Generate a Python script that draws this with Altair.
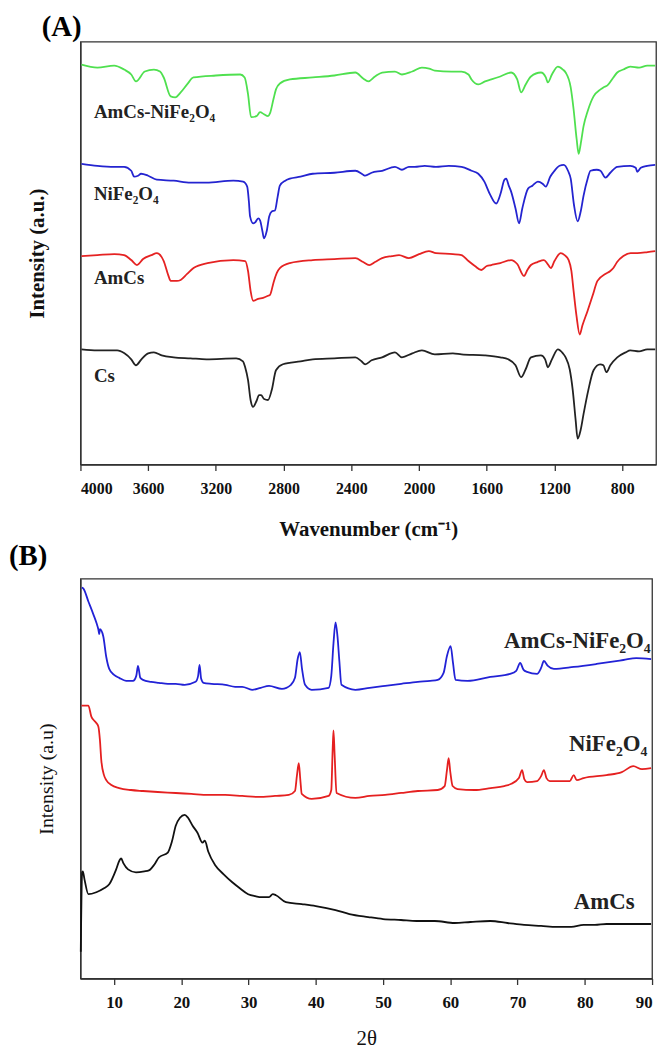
import altair as alt
import pandas as pd

FONT = "Liberation Serif"

# ---------------- Panel A : FTIR ----------------
FTIR_SERIES = ["AmCs-NiFe₂O₄", "NiFe₂O₄", "AmCs", "Cs"]
FTIR_COLORS = ["#4fe04f", "#2424d0", "#e52222", "#222222"]

AMCS_NIFE_WN = [3994, 3900, 3801, 3742, 3700, 3672, 3620, 3566, 3530, 3508, 3467, 3440, 3408, 3370, 3332,
                3200, 3056, 3030, 3010, 2992, 2960, 2939, 2916, 2892, 2880, 2860, 2845, 2822, 2763, 2628,
                2500, 2376, 2330, 2300, 2260, 2218, 2142, 2101, 2040, 1983, 1940, 1907, 1808, 1749, 1708,
                1690, 1649, 1610, 1573, 1520, 1456, 1420, 1397, 1370, 1339, 1280, 1251, 1239, 1215, 1180,
                1150, 1134, 1104, 1087, 1069, 1057, 1045, 1028, 1004, 969, 928, 911, 887, 852, 829, 793,
                752, 700, 652, 605]
AMCS_NIFE_IR = [403, 400, 402, 398, 393, 386, 396, 398, 396, 390, 371, 370, 375, 383, 390,
                392, 393, 390, 373, 350, 351, 355, 353, 351, 354, 368, 378, 384, 388, 390,
                392, 395, 389, 386, 391, 395, 396, 393, 396, 400, 399, 397, 396, 396, 393,
                388, 383, 386, 388, 391, 395, 388, 375, 383, 391, 395, 390, 385, 393, 401,
                398, 395, 380, 358, 328, 313, 323, 341, 356, 371, 378, 380, 382, 390, 395, 398,
                401, 400, 402, 402]

NIFE_WN = [3994, 3900, 3800, 3742, 3700, 3683, 3660, 3642, 3600, 3549, 3449, 3350, 3256, 3097, 3039,
           3015, 3005, 2998, 2980, 2968, 2950, 2939, 2925, 2916, 2900, 2885, 2870, 2851, 2835, 2822,
           2790, 2763, 2700, 2628, 2500, 2376, 2330, 2318, 2280, 2218, 2142, 2101, 2060, 2025, 1966,
           1900, 1825, 1749, 1690, 1650, 1614, 1580, 1544, 1520, 1495, 1485, 1470, 1456, 1430, 1409,
           1390, 1356, 1330, 1298, 1270, 1251, 1225, 1204, 1170, 1145, 1120, 1104, 1085, 1063, 1045,
           1028, 1004, 987, 950, 928, 899, 870, 829, 752, 720, 711, 690, 652, 605]
NIFE_IR = [303, 301, 300, 300, 296, 290, 291, 293, 291, 287, 286, 284, 284, 286, 285,
           280, 265, 250, 243, 244, 248, 246, 235, 228, 235, 250, 255, 256, 270, 281,
           286, 288, 290, 293, 294, 296, 292, 291, 294, 296, 300, 297, 300, 300, 301,
           300, 301, 300, 296, 293, 285, 272, 263, 272, 287, 288, 281, 275, 258, 243,
           258, 278, 281, 285, 283, 280, 290, 295, 301, 302, 296, 288, 262, 245, 255,
           271, 288, 296, 297, 296, 289, 294, 300, 301, 299, 295, 299, 301, 302]

AMCS_WN = [3994, 3900, 3800, 3742, 3700, 3666, 3630, 3580, 3549, 3520, 3508, 3480, 3467, 3430, 3408,
           3370, 3332, 3250, 3097, 3027, 3010, 2995, 2980, 2950, 2921, 2892, 2880, 2860, 2840, 2822,
           2763, 2628, 2500, 2376, 2330, 2294, 2260, 2218, 2160, 2118, 2060, 2000, 1942, 1900, 1800,
           1749, 1708, 1670, 1632, 1600, 1573, 1520, 1456, 1420, 1380, 1360, 1339, 1300, 1262, 1240,
           1221, 1200, 1163, 1140, 1116, 1100, 1087, 1070, 1051, 1035, 1004, 975, 946, 900, 870,
           852, 830, 793, 750, 711, 650, 605]
AMCS_IR = [210, 211, 212, 211, 206, 201, 207, 211, 213, 209, 205, 190, 185, 185, 186,
           192, 198, 203, 206, 205, 195, 175, 165, 167, 168, 170, 171, 183, 193, 198,
           203, 206, 207, 208, 204, 201, 204, 208, 210, 211, 208, 212, 215, 213, 212,
           211, 205, 200, 196, 200, 201, 203, 206, 202, 190, 196, 201, 204, 206, 202,
           198, 205, 213, 211, 206, 195, 175, 150, 131, 140, 155, 170, 185, 192, 195,
           198, 204, 210, 213, 213, 214, 215]

CS_WN = [3994, 3900, 3783, 3740, 3700, 3672, 3640, 3600, 3566, 3520, 3449, 3350, 3256, 3080, 3040,
         3027, 3010, 2995, 2980, 2960, 2945, 2933, 2915, 2892, 2870, 2845, 2804, 2700, 2628, 2500,
         2376, 2340, 2318, 2280, 2218, 2142, 2101, 2040, 1983, 1907, 1800, 1749, 1614, 1520, 1473,
         1430, 1397, 1370, 1339, 1280, 1255, 1239, 1215, 1180, 1150, 1134, 1110, 1092, 1075, 1063,
         1045, 1028, 1000, 969, 930, 911, 893, 870, 829, 780, 752, 700, 652, 605]
CS_IR = [116, 115, 115, 112, 106, 100, 106, 112, 113, 110, 108, 107, 106, 107, 104,
         98, 85, 65, 58, 64, 70, 70, 66, 65, 75, 95, 101, 104, 106, 107,
         108, 104, 101, 105, 108, 113, 108, 112, 115, 111, 112, 111, 110, 108, 106,
         100, 88, 96, 108, 110, 106, 98, 106, 116, 112, 108, 96, 75, 45, 26,
         35, 51, 75, 95, 101, 100, 93, 100, 108, 113, 115, 114, 116, 116]

FTIR_LABEL_X = [3920, 3920, 3920, 3920]
FTIR_LABEL_Y = [355, 273, 188, 89]
FTIR_TICKS = list(range(800, 4001, 200))

# ---------------- Panel B : XRD ----------------
XRD_SERIES = ["AmCs-NiFe₂O₄ ", "NiFe₂O₄ ", "AmCs "]
XRD_NAMES = ["AmCs-NiFe₂O₄", "NiFe₂O₄", "AmCs"]
XRD_COLORS = ["#2222d6", "#e52020", "#111111"]

XRD_AMCS_NIFE_T = [5.2, 5.44, 6.18, 6.92, 7.4, 7.66, 7.8, 7.9, 8.39, 8.84, 9.28, 10.0, 10.76, 11.79, 12.82,
                   13.3, 13.56, 13.9, 14.3, 15.5, 16.66, 18.0, 19.17, 20.5, 22.12, 22.5, 22.71, 22.95, 23.3,
                   24.5, 26.55, 28.0, 29.06, 30.53, 31.8, 33.04, 34.96, 36.3, 36.9, 37.3, 37.62, 37.95, 38.4,
                   39.39, 41.9, 42.3, 42.63, 42.93, 43.22, 43.5, 43.81, 45.88, 48.0, 50.31, 52.7, 55.18,
                   57.0, 58.13, 59.0, 59.5, 60.05, 60.4, 60.78, 62.56, 65.95, 68.9, 69.8, 70.38, 70.9,
                   71.41, 72.89, 73.5, 73.92, 74.5, 75.4, 78.35, 81.74, 85.73, 87.65, 89.86]
XRD_AMCS_NIFE_I = [394, 393, 380, 367, 358, 352, 347, 352, 345, 324, 312, 306, 303, 300, 300,
                   305, 315, 303, 301, 299, 298, 297, 297, 296, 299, 305, 316, 302, 298,
                   297, 296, 294, 294, 291, 293, 295, 292, 296, 303, 322, 329, 312, 296,
                   291, 293, 305, 338, 359, 345, 320, 296, 291, 293, 295, 297, 299,
                   300, 301, 308, 325, 335, 318, 301, 300, 304, 307, 310, 318, 311,
                   309, 307, 313, 320, 315, 312, 314, 317, 321, 323, 322]

XRD_NIFE_T = [5.15, 6.18, 6.62, 7.3, 7.66, 7.9, 8.1, 8.5, 8.84, 9.6, 10.76, 12.5, 14.3, 16.5, 19.17,
              21.5, 24.04, 26.5, 29.06, 31.5, 33.93, 35.99, 36.9, 37.2, 37.47, 37.7, 37.91, 39.39, 41.9,
              42.3, 42.5, 42.63, 42.8, 43.08, 45.88, 48.0, 50.31, 52.7, 55.18, 58.13, 59.16, 59.5, 59.75,
              60.0, 60.34, 61.08, 63.59, 66.0, 68.02, 69.0, 70.2, 70.67, 71.0, 71.41, 72.89, 73.5, 73.92,
              74.3, 74.8, 77.76, 78.35, 78.8, 79.82, 83.22, 85.5, 87.21, 88.5, 89.86]
XRD_NIFE_I = [275, 275, 264, 258, 254, 240, 220, 205, 200, 195, 192, 190, 189, 188, 187,
              186, 185, 185, 184, 183, 184, 185, 189, 205, 217, 200, 186, 181, 184,
              190, 230, 250, 225, 187, 182, 184, 185, 187, 189, 190, 194, 210, 222,
              208, 194, 191, 190, 192, 194, 196, 202, 210, 201, 198, 199, 204, 210,
              202, 199, 199, 205, 200, 202, 205, 208, 214, 211, 212]

XRD_AMCS_T = [5.05, 5.25, 5.35, 5.6, 6.18, 7.36, 8.5, 9.28, 10.31, 10.8, 11.05, 11.4, 12.08, 13.26, 14.5,
              15.18, 16.0, 16.66, 17.99, 18.6, 19.17, 19.8, 20.5, 21.0, 21.68, 22.4, 23.15, 23.5, 24.0,
              25.07, 26.3, 27.58, 28.7, 29.94, 31.0, 32.0, 33.04, 33.6, 34.07, 35.55, 37.91, 40.0, 42.93,
              45.0, 47.8, 50.0, 52.67, 55.0, 57.69, 60.64, 63.0, 65.95, 68.5, 70.97, 73.5, 75.84, 78.0,
              79.82, 81.5, 83.22, 86.0, 89.86]
XRD_AMCS_I = [27, 107, 108, 100, 85, 87, 91, 95, 110, 119, 121, 116, 110, 107, 108,
              109, 115, 122, 127, 138, 154, 162, 165, 162, 154, 147, 137, 139, 128,
              114, 105, 97, 91, 85, 83, 82, 82, 85, 84, 77, 75, 73, 69,
              65, 62, 60, 59, 58, 58, 56, 57, 58, 56, 54, 53, 52, 52,
              54, 54, 55, 55, 55]

XRD_LABEL_X = [89.8, 89.3, 87.4]
XRD_LABEL_Y = [340, 236, 77]
XRD_TICKS = list(range(10, 91, 5))

# ---------------- build tables ----------------
ftir_rows = []
for name, wn, iv in zip(FTIR_SERIES, [AMCS_NIFE_WN, NIFE_WN, AMCS_WN, CS_WN],
                        [AMCS_NIFE_IR, NIFE_IR, AMCS_IR, CS_IR]):
    for w, v in zip(wn, iv):
        ftir_rows.append({"wn": w, "val": v, "series": name})
ftir = pd.DataFrame(ftir_rows)
ftir_labels = pd.DataFrame({"wn": FTIR_LABEL_X, "val": FTIR_LABEL_Y, "text": FTIR_SERIES})

xrd_rows = []
for name, tt, iv in zip(XRD_SERIES, [XRD_AMCS_NIFE_T, XRD_NIFE_T, XRD_AMCS_T],
                        [XRD_AMCS_NIFE_I, XRD_NIFE_I, XRD_AMCS_I]):
    for t, v in zip(tt, iv):
        xrd_rows.append({"t": t, "val": v, "sample": name})
xrd = pd.DataFrame(xrd_rows)
xrd_labels = pd.DataFrame({"t": XRD_LABEL_X, "val": XRD_LABEL_Y, "text": XRD_NAMES})

# ---------------- Panel A chart ----------------
xA = alt.X("wn:Q",
           scale=alt.Scale(domain=[600, 4000], reverse=True, nice=False, zero=False),
           axis=alt.Axis(values=FTIR_TICKS, format="d",
                         labelExpr="datum.value % 400 === 0 ? datum.label : ''",
                         tickSize={"condition": {"test": "datum.value % 400 === 0", "value": 6}, "value": 3},
                         title="Wavenumber (cm⁻¹)", titleFontWeight="bold", titleFontSize=21,
                         titlePadding=23, labelFontWeight="bold", labelFontSize=16,
                         labelPadding=10, grid=False))
yA = alt.Y("val:Q", scale=alt.Scale(domain=[0, 426], nice=False, zero=False),
           axis=alt.Axis(title="Intensity (a.u.)", labels=False, ticks=False, grid=False,
                         titleFontWeight="bold", titleFontSize=21, titlePadding=33))

linesA = alt.Chart(ftir).mark_line(strokeWidth=1.8, interpolate="monotone").encode(
    x=xA, y=yA,
    color=alt.Color("series:N", scale=alt.Scale(domain=FTIR_SERIES, range=FTIR_COLORS), legend=None),
    detail="series:N",
)
labelsA = alt.Chart(ftir_labels).mark_text(
    align="left", baseline="middle", font=FONT, fontWeight="bold", fontSize=19, color="#222222"
).encode(x="wn:Q", y="val:Q", text="text:N")
spacerA = alt.Chart(pd.DataFrame({"s": [0]})).mark_rule(opacity=0, strokeOpacity=0).encode(
    x=alt.value(-68), y=alt.value(0), y2=alt.value(1))

panelA = alt.layer(linesA, labelsA, spacerA).properties(
    width=580, height=426,
    title=alt.TitleParams("(A)", anchor="start", frame="group", dx=-39, offset=0,
                          font=FONT, fontSize=29, fontWeight="bold", color="black"),
)

# ---------------- Panel B chart ----------------
xB = alt.X("t:Q",
           scale=alt.Scale(domain=[5, 90], nice=False, zero=False),
           axis=alt.Axis(values=XRD_TICKS, format="d",
                         labelExpr="datum.value % 10 === 0 ? datum.label : ''",
                         tickSize={"condition": {"test": "datum.value % 10 === 0", "value": 6}, "value": 3},
                         title="2θ", titleFontWeight="normal", titleFontSize=21, titlePadding=17,
                         labelFontWeight="bold", labelFontSize=17, labelPadding=10, grid=False))
yB = alt.Y("val:Q", scale=alt.Scale(domain=[0, 403], nice=False, zero=False),
           axis=alt.Axis(title="Intensity (a.u)", labels=False, ticks=False, grid=False,
                         titleFontWeight="normal", titleFontSize=20, titlePadding=24))

linesB = alt.Chart(xrd).mark_line(strokeWidth=1.8, interpolate="monotone").encode(
    x=xB, y=yB,
    color=alt.Color("sample:N", scale=alt.Scale(domain=XRD_SERIES, range=XRD_COLORS), legend=None),
    detail="sample:N",
)
labelsB = alt.Chart(xrd_labels).mark_text(
    align="right", baseline="middle", font=FONT, fontWeight="bold", fontSize=23, color="#222222"
).encode(x="t:Q", y="val:Q", text="text:N")

panelB = alt.layer(linesB, labelsB).properties(
    width=576, height=403,
    title=alt.TitleParams("(B)", anchor="start", frame="group", dx=-72, offset=8,
                          font=FONT, fontSize=29, fontWeight="bold", color="black"),
)

chart = alt.vconcat(panelA, panelB, spacing=0).resolve_scale(color="independent").properties(
    padding=0
).configure_view(
    stroke="#333333", strokeWidth=1.3
).configure_axis(
    labelFont=FONT, titleFont=FONT, labelColor="#111111", titleColor="#111111",
    domainColor="#333333", tickColor="#333333", domainWidth=1.3, tickWidth=1.3
).configure_title(font=FONT)

chart.save("out.html", embed_options={"renderer": "svg", "actions": False})
